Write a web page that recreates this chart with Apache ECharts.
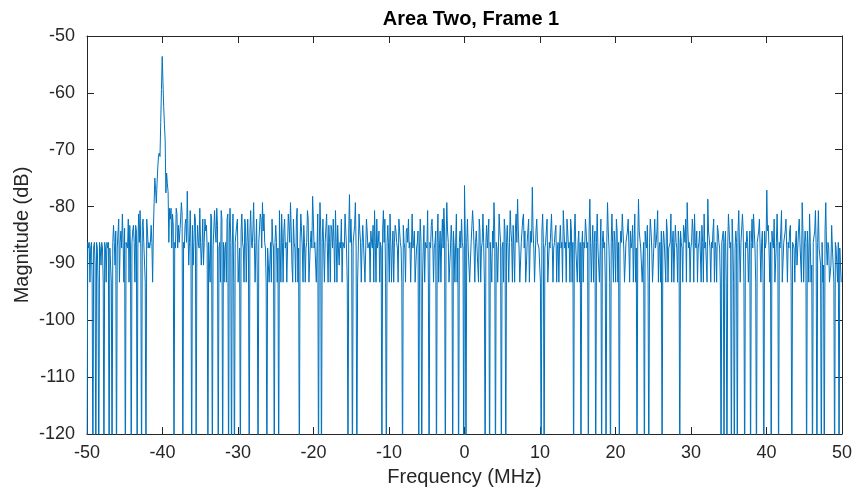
<!DOCTYPE html>
<html>
<head>
<meta charset="utf-8">
<script src="https://cdn.jsdelivr.net/npm/echarts@6/dist/echarts.min.js"></script>
<style>
  html, body { margin: 0; padding: 0; background: #ffffff; }
  #chart { width: 855px; height: 493px; }
</style>
</head>
<body>
<div id="chart"></div>
<script>
// Spectrum of one frame: 1024 FFT bins spanning -50 .. 50 MHz.
// Empty bins (no energy) are stored as -130 dB so they fall below the axis floor.
const titleText = 'Area Two, Frame 1';
const xLabel = 'Frequency (MHz)';
const yLabel = 'Magnitude (dB)';
const freqStart = -50;
const freqSpan = 100;
const xTicks = [-50, -40, -30, -20, -10, 0, 10, 20, 30, 40, 50];
const yTicks = [-120, -110, -100, -90, -80, -70, -60, -50];

const magnitudeDb = [
  -130,-86.3,-87.3,-86.3,-93.3,-87.3,-86.3,-93.3,-130,-87.3,-86.3,-90.3,-130,-86.3,-87.3,-93.3,
  -130,-86.3,-87.3,-90.3,-86.3,-87.3,-93.3,-130,-86.3,-87.3,-93.3,-86.3,-87.3,-86.3,-130,-87.3,
  -87.3,-93.3,-130,-86.3,-83.3,-86.3,-90.3,-84.3,-130,-87.3,-87.3,-82.2,-93.3,-86.3,-84.3,-87.3,
  -81.3,-86.3,-93.3,-83.8,-130,-86.3,-86.3,-87.3,-82.2,-93.3,-83.3,-87.3,-130,-86.3,-84.3,-83.3,
  -86.3,-93.3,-83.3,-84.3,-130,-87.3,-81.3,-86.3,-80.7,-87.3,-130,-83.3,-82.2,-86.3,-86.3,-93.3,
  -130,-82.2,-84.3,-87.3,-86.3,-87.3,-86.3,-83.3,
  -86.3,-93.3,-84.3,-79.4,-75.0,-77.0,-79.4,-76.0,-73.2,-71.0,-70.6,-71.2,-65.2,-59.4,-53.6,-58.0,
  -62.4,-65.5,-68.3,-77.6,-74.1,-76.0,-77.4,-86.3,-80.3,-82.2,-80.3,-87.3,-81.3,-83.3,
  -130,-86.3,-87.3,-80.3,-81.3,-87.3,-83.3,-86.3,-84.3,-82.2,
  -79.3,-81.3,-130,-86.3,-87.3,-83.3,-82.2,-86.3,-77.3,-84.3,-90.3,-86.3,-80.7,-87.3,-130,-83.3,
  -90.3,-86.3,-81.3,-82.2,-130,-87.3,-83.3,-86.3,-87.3,-80.3,-86.3,-90.3,-87.3,-82.2,-90.3,-86.3,
  -82.2,-84.3,-83.3,-87.3,-130,-86.3,-86.3,-93.3,-81.3,-82.2,-130,-87.3,-87.3,-80.7,-84.3,-86.3,
  -80.3,-83.3,-130,-87.3,-86.3,-93.3,-80.7,-82.2,-130,-86.3,-93.3,-87.3,-86.3,-93.3,-82.2,-81.3,
  -130,-84.3,-80.3,-86.3,-130,-87.3,-81.3,-93.3,-130,-86.3,-86.3,-83.3,-82.2,-93.3,-93.3,-87.3,
  -130,-84.3,-81.3,-86.3,-87.3,-93.3,-82.2,-83.3,-93.3,-86.3,-82.2,-87.3,-130,-84.3,-80.7,-86.3,
  -87.3,-84.3,-79.3,-86.3,-93.3,-87.3,-82.2,-93.3,-130,-86.3,-86.3,-81.3,-82.2,-87.3,-79.3,-84.3,
  -81.3,-86.3,-87.3,-93.3,-130,-87.3,-90.3,-93.3,-93.3,-86.3,-93.3,-82.2,-86.3,-87.3,-130,-86.3,
  -83.3,-86.3,-93.3,-87.3,-130,-80.7,-87.3,-93.3,-81.3,-86.3,-93.3,-84.3,-82.2,-87.3,-86.3,-93.3,
  -93.3,-81.3,-83.3,-86.3,-79.3,-84.3,-90.3,-93.3,-82.2,-86.3,-87.3,-93.3,-82.2,-80.3,-93.3,-87.3,
  -130,-86.3,-81.3,-84.3,-87.3,-93.3,-83.3,-86.3,-93.3,-87.3,-86.3,-80.7,-82.2,-93.3,-93.3,-86.3,
  -84.3,-87.3,-78.2,-82.2,-87.3,-86.3,-86.3,-93.3,-93.3,-81.3,-130,-87.3,-79.3,-84.3,-130,-86.3,
  -82.2,-87.3,-93.3,-86.3,-86.3,-81.3,-87.3,-93.3,-83.3,-86.3,-93.3,-83.3,-84.3,-87.3,-82.2,-86.3,
  -93.3,-80.7,-86.3,-93.3,-83.3,-87.3,-90.3,-86.3,-87.3,-82.2,-93.3,-86.3,-86.3,-87.3,-81.3,-84.3,
  -87.3,-93.3,-130,-84.3,-77.9,-86.3,-82.2,-87.3,-130,-86.3,-86.3,-83.3,-79.3,-87.3,-130,-93.3,
  -87.3,-81.3,-84.3,-86.3,-93.3,-87.3,-83.3,-86.3,-86.3,-93.3,-93.3,-82.2,-84.3,-87.3,-87.3,-86.3,
  -93.3,-84.3,-86.3,-87.3,-83.3,-93.3,-80.7,-86.3,-93.3,-82.2,-87.3,-86.3,-84.3,-93.3,-86.3,-87.3,
  -130,-84.3,-80.7,-86.3,-82.2,-93.3,-130,-86.3,-83.3,-87.3,-93.3,-81.3,-86.3,-93.3,-87.3,-84.3,
  -93.3,-86.3,-83.3,-84.3,-86.3,-87.3,-93.3,-82.2,-84.3,-86.3,-87.3,-93.3,-130,-83.3,-86.3,-87.3,
  -93.3,-84.3,-83.8,-86.3,-82.2,-87.3,-86.3,-93.3,-93.3,-81.3,-87.3,-86.3,-84.3,-93.3,-93.3,-87.3,
  -86.3,-84.3,-130,-87.3,-82.2,-86.3,-130,-93.3,-87.3,-83.3,-93.3,-86.3,-86.3,-87.3,-80.7,-93.3,
  -130,-86.3,-87.3,-83.3,-82.2,-86.3,-93.3,-87.3,-86.3,-84.3,-130,-86.3,-81.3,-93.3,-87.3,-84.3,
  -93.3,-86.3,-82.2,-87.3,-80.3,-84.3,-130,-86.3,-79.3,-84.3,-86.3,-93.3,-93.3,-87.3,-83.3,-86.3,
  -130,-84.3,-87.3,-93.3,-86.3,-81.3,-93.3,-87.3,-130,-86.3,-84.3,-87.3,-82.2,-86.3,-87.3,-130,
  -76.3,-84.3,-130,-86.3,-82.2,-87.3,-87.3,-93.3,-93.3,-86.3,-86.3,-80.7,-83.3,-87.3,-93.3,-86.3,
  -84.3,-87.3,-87.3,-93.3,-82.2,-84.3,-93.3,-87.3,-86.3,-81.3,-86.3,-93.3,-130,-86.3,-83.3,-87.3,
  -87.3,-82.2,-130,-86.3,-86.3,-93.3,-84.3,-87.3,-79.3,-84.3,-130,-86.3,-87.3,-93.3,-93.3,-81.3,
  -84.3,-86.3,-130,-87.3,-86.3,-93.3,-82.2,-84.3,-130,-86.3,-83.3,-87.3,-93.3,-86.3,-80.7,-84.3,
  -86.3,-93.3,-83.3,-87.3,-93.3,-84.3,-81.3,-86.3,-78.7,-84.3,-87.3,-93.3,-93.3,-86.3,-86.3,-82.2,
  -81.3,-87.3,-84.3,-93.3,-90.3,-86.3,-86.3,-82.2,-93.3,-87.3,-84.3,-86.3,-76.6,-84.3,-87.3,-93.3,
  -93.3,-84.3,-82.2,-86.3,-86.3,-87.3,-87.3,-93.3,-130,-84.3,-81.3,-86.3,-130,-87.3,-86.3,-84.3,
  -82.2,-93.3,-93.3,-86.3,-87.3,-84.3,-81.3,-86.3,-93.3,-87.3,-86.3,-84.3,-83.3,-93.3,-87.3,-86.3,
  -93.3,-86.3,-83.3,-87.3,-86.3,-93.3,-80.7,-84.3,-87.3,-86.3,-93.3,-82.2,-84.3,-87.3,-86.3,-93.3,
  -82.2,-84.3,-93.3,-86.3,-130,-84.3,-81.3,-87.3,-87.3,-93.3,-86.3,-84.3,-93.3,-86.3,-130,-87.3,
  -84.3,-93.3,-86.3,-87.3,-82.2,-84.3,-87.3,-86.3,-130,-84.3,-78.7,-86.3,-93.3,-87.3,-83.3,-93.3,
  -86.3,-84.3,-130,-86.3,-81.3,-87.3,-87.3,-93.3,-93.3,-82.2,-130,-86.3,-84.3,-87.3,-86.3,-93.3,
  -130,-86.3,-79.3,-84.3,-87.3,-93.3,-130,-86.3,-81.3,-87.3,-93.3,-84.3,-86.3,-93.3,-82.2,-84.3,
  -93.3,-86.3,-130,-87.3,-84.3,-86.3,-81.3,-84.3,-87.3,-93.3,-93.3,-86.3,-86.3,-84.3,-82.2,-87.3,
  -93.3,-84.3,-87.3,-86.3,-83.3,-93.3,-86.3,-81.3,-93.3,-87.3,-130,-86.3,-78.7,-84.3,-84.3,-87.3,
  -87.3,-93.3,-93.3,-86.3,-130,-84.3,-86.3,-87.3,-83.3,-93.3,-130,-86.3,-82.2,-84.3,-87.3,-93.3,
  -93.3,-86.3,-82.2,-87.3,-86.3,-84.3,-80.7,-93.3,-87.3,-86.3,-93.3,-84.3,-130,-87.3,-84.3,-86.3,
  -86.3,-93.3,-82.2,-84.3,-93.3,-87.3,-87.3,-86.3,-81.3,-93.3,-86.3,-84.3,-93.3,-87.3,-83.3,-86.3,
  -87.3,-93.3,-84.3,-86.3,-130,-84.3,-86.3,-87.3,-93.3,-83.3,-84.3,-86.3,-82.2,-93.3,-79.3,-84.3,
  -87.3,-86.3,-93.3,-87.3,-86.3,-82.2,-84.3,-93.3,-81.3,-86.3,-87.3,-84.3,-93.3,-87.3,-86.3,-84.3,
  -84.3,-93.3,-83.3,-86.3,-93.3,-81.3,-87.3,-86.3,-86.3,-93.3,-78.7,-84.3,-84.3,-87.3,-93.3,-86.3,
  -87.3,-84.3,-82.2,-93.3,-86.3,-87.3,-93.3,-83.3,-84.3,-86.3,-87.3,-93.3,-130,-86.3,-86.3,-84.3,
  -130,-86.3,-84.3,-93.3,-130,-87.3,-81.3,-84.3,-87.3,-86.3,-130,-82.2,-86.3,-93.3,-130,-87.3,
  -84.3,-86.3,-130,-84.3,-80.7,-87.3,-93.3,-86.3,-86.3,-81.3,-84.3,-93.3,-130,-86.3,-87.3,-84.3,
  -86.3,-93.3,-93.3,-84.3,-130,-86.3,-82.2,-87.3,-81.3,-84.3,-87.3,-93.3,-130,-86.3,-86.3,-84.3,
  -82.2,-87.3,-93.3,-86.3,-84.3,-93.3,-130,-84.3,-87.3,-86.3,-77.1,-84.3,-83.3,-87.3,-93.3,-86.3,
  -130,-84.3,-86.3,-87.3,-82.2,-93.3,-93.3,-86.3,-81.3,-87.3,-130,-86.3,-87.3,-84.3,-80.7,-93.3,
  -93.3,-86.3,-86.3,-84.3,-82.2,-87.3,-93.3,-86.3,-87.3,-84.3,-83.3,-93.3,-130,-86.3,-86.3,-87.3,
  -93.3,-86.3,-84.3,-90.3,-87.3,-84.3,-82.2,-86.3,-86.3,-93.3,-79.3,-84.3,-93.3,-87.3,-84.3,-86.3,
  -130,-84.3,-87.3,-93.3,-81.3,-86.3,-93.3,-90.3,-130,-86.3,-86.3,-84.3,-80.7,-87.3,-130,-86.3,
  -80.7,-87.3,-87.3,-90.3,-130,-86.3,-93.3,-90.3,-130,-84.3,-79.3,-87.3,-90.3,-86.3,-87.3,-93.3,
  -93.3,-90.3,-83.3,-87.3,-90.3,-93.3,-130,-86.3,-87.3,-90.3,-93.3,-86.3,-130,-87.3,-90.3,-93.3
];

// Bin frequencies of the FFT grid
const binWidth = freqSpan / magnitudeDb.length;
const points = magnitudeDb.map((v, i) => [freqStart + i * binWidth, v]);

const FONT = '"Liberation Sans", Arial, Helvetica, sans-serif';
const AXIS_COLOR = '#262626';

// Plain box-axis template: line plus inward ticks, no grid lines
function boxAxis(extra) {
  return Object.assign({
    type: 'value',
    axisLine: { show: true, onZero: false, lineStyle: { color: AXIS_COLOR, width: 1 } },
    axisTick: { show: true, inside: true, length: 7, lineStyle: { color: AXIS_COLOR, width: 1 } },
    splitLine: { show: false },
    axisLabel: { show: false }
  }, extra);
}

const chart = echarts.init(document.getElementById('chart'), null, { renderer: 'canvas' });
chart.setOption({
  animation: false,
  backgroundColor: '#ffffff',
  title: {
    text: titleText,
    left: 466,
    top: 4,
    textAlign: 'center',
    textStyle: { fontFamily: FONT, fontSize: 20, fontWeight: 'bold', color: '#000000' }
  },
  grid: { left: 87, right: 10, top: 36, bottom: 59, containLabel: false },
  xAxis: [
    boxAxis({
      position: 'bottom',
      min: xTicks[0], max: xTicks[xTicks.length - 1], interval: 10,
      axisLabel: { show: true, fontFamily: FONT, fontSize: 18, color: AXIS_COLOR, margin: 10 },
      name: xLabel, nameLocation: 'middle', nameGap: 33, nameMoveOverlap: false,
      nameTextStyle: { fontFamily: FONT, fontSize: 20, color: AXIS_COLOR }
    }),
    boxAxis({
      position: 'top',
      min: xTicks[0], max: xTicks[xTicks.length - 1], interval: 10
    })
  ],
  yAxis: [
    boxAxis({
      position: 'left',
      min: yTicks[0], max: yTicks[yTicks.length - 1], interval: 10,
      axisLabel: { show: true, fontFamily: FONT, fontSize: 18, color: AXIS_COLOR, margin: 12 },
      name: yLabel, nameLocation: 'middle', nameGap: 55, nameRotate: 90, nameMoveOverlap: false,
      nameTextStyle: { fontFamily: FONT, fontSize: 20, color: AXIS_COLOR }
    }),
    boxAxis({
      position: 'right',
      min: yTicks[0], max: yTicks[yTicks.length - 1], interval: 10
    })
  ],
  series: [{
    type: 'line',
    xAxisIndex: 0,
    yAxisIndex: 0,
    data: points,
    showSymbol: false,
    symbol: 'none',
    clip: true,
    lineStyle: { color: '#0072BD', width: 1 },
    emphasis: { disabled: true }
  }]
});
</script>
</body>
</html>
